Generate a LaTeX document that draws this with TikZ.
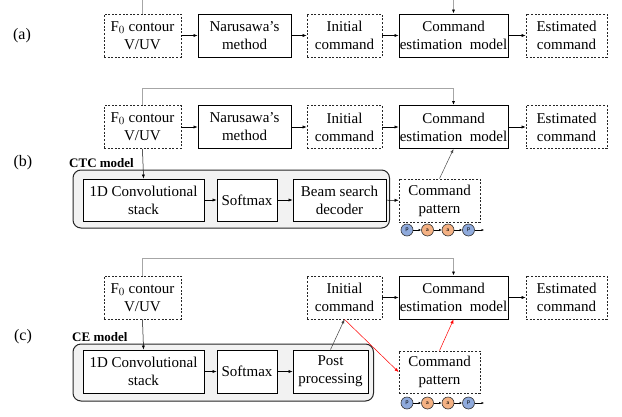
\documentclass[tikz,border=0pt]{standalone}
\usepackage{fontspec}
\setmainfont{Liberation Serif}
\usetikzlibrary{arrows.meta}
\definecolor{pblue}{HTML}{8FAADC}
\definecolor{aorange}{HTML}{F4B183}
\definecolor{grpfill}{HTML}{F2F2F2}
\begin{document}
\begin{tikzpicture}[x=1pt,y=-1pt,
  font=\fontsize{15}{18}\selectfont,
  dbox/.style={draw=black!85, line width=0.8pt, dash pattern=on 2pt off 1.6pt, align=center, inner sep=0pt, minimum height=43pt},
  sbox/.style={draw=black, line width=1pt, align=center, inner sep=0pt, minimum height=43pt},
  ibox/.style={draw=black, line width=0.9pt, fill=white, align=center, inner sep=0pt, minimum height=42pt},
  grp/.style={draw=black!85, line width=1pt, fill=grpfill, rounded corners=8pt},
  conn/.style={line width=0.5pt, -{Latex[length=4pt,width=3.2pt]}},
  gconn/.style={draw=black!35, line width=1.1pt, -{Latex[length=4pt,width=3.2pt,color=black]}},
  rconn/.style={draw=red, line width=0.5pt, -{Latex[length=4pt,width=3.2pt]}},
  tag/.style={font=\fontsize{16}{18}\selectfont},
  gtitle/.style={font=\fontsize{13}{14}\selectfont\bfseries, anchor=west, inner sep=0pt},
  pnode/.style={circle, draw=black!80, line width=0.6pt, fill=pblue, minimum size=12pt, inner sep=0pt, font=\fontsize{6}{6}\sffamily},
  anode/.style={circle, draw=black!80, line width=0.6pt, fill=aorange, minimum size=12pt, inner sep=0pt, font=\fontsize{6}{6}\sffamily},
  sconn/.style={line width=0.4pt, -{Latex[length=2.5pt,width=2.2pt]}}
]
\useasboundingbox (0,0) rectangle (622,416);

% ---------- (a) ----------
\node[tag] (la) at (22,36) {(a)};
\node[dbox, minimum width=77pt] (f0a) at (142.5,35.5) {F$_0$ contour\\V/UV};
\node[sbox, minimum width=93pt] (nara) at (244.5,35.5) {Narusawa’s\\method};
\node[dbox, minimum width=75pt] (inita) at (344.5,35.5) {Initial\\command};
\node[sbox, minimum width=109pt] (cmda) at (453.5,35.5) {Command\\estimation\ \ model};
\node[dbox, minimum width=81pt] (esta) at (566.5,35.5) {Estimated\\command};
\coordinate (ta1) at (142.5,0);
\coordinate (ta2) at (453.5,0);
\draw[draw=black!35, line width=1.1pt] (f0a.north) -- (ta1);
\draw[gconn] (ta2) -- (cmda.north);
\draw[conn] (f0a) -- (nara);
\draw[conn] (nara) -- (inita);
\draw[conn] (inita) -- (cmda);
\draw[conn] (cmda) -- (esta);

% ---------- (b) ----------
\node[tag] (lb) at (23,163) {(b)};
\node[dbox, minimum width=77pt] (f0b) at (142.5,127) {F$_0$ contour\\V/UV};
\node[sbox, minimum width=93pt] (narb) at (244.5,127) {Narusawa’s\\method};
\node[dbox, minimum width=75pt] (initb) at (344.5,127) {Initial\\command};
\node[sbox, minimum width=109pt] (cmdb) at (453.5,127) {Command\\estimation\ \ model};
\node[dbox, minimum width=81pt] (estb) at (566.5,127) {Estimated\\command};
\draw[gconn] (f0b.north) -- ++(0,-17) -| (cmdb.north);
\draw[conn] (f0b) -- (narb);
\draw[conn] (narb) -- (initb);
\draw[conn] (initb) -- (cmdb);
\draw[conn] (cmdb) -- (estb);

\node[gtitle] (ctct) at (69,163) {CTC model};
\draw[grp] (73,170) rectangle (389.5,228);
\node[ibox, minimum width=121pt] (convb) at (143.5,200) {1D Convolutional\\stack};
\node[ibox, minimum width=60pt] (softb) at (247,200) {Softmax};
\node[ibox, minimum width=93pt] (beamb) at (339.5,200) {Beam search\\decoder};
\node[dbox, minimum width=81pt] (patb) at (439.5,200.5) {Command\\pattern};
\draw[conn] (f0b.south) -- (convb.north);
\draw[conn] (convb) -- (softb);
\draw[conn] (softb) -- (beamb);
\draw[conn] (beamb) -- (patb);
\draw[conn, draw=black!70] (patb.north) -- (cmdb.south);

\node[pnode] (pb1) at (407,230) {p};
\node[anode] (pb2) at (427.5,230) {a};
\node[anode] (pb3) at (448,230) {a};
\node[pnode] (pb4) at (468.5,230) {p};
\coordinate (pb5) at (484,230);
\draw[sconn] (pb1) -- (pb2);
\draw[sconn] (pb2) -- (pb3);
\draw[sconn] (pb3) -- (pb4);
\draw[sconn] (pb4) -- (pb5);

% ---------- (c) ----------
\node[tag] (lc) at (23,337) {(c)};
\node[dbox, minimum width=77pt] (f0c) at (142.5,297.5) {F$_0$ contour\\V/UV};
\node[dbox, minimum width=75pt] (initc) at (344.5,297.5) {Initial\\command};
\node[sbox, minimum width=109pt] (cmdc) at (453.5,297.5) {Command\\estimation\ \ model};
\node[dbox, minimum width=81pt] (estc) at (566.5,297.5) {Estimated\\command};
\draw[gconn] (f0c.north) -- ++(0,-17) -| (cmdc.north);
\draw[conn] (initc) -- (cmdc);
\draw[conn] (cmdc) -- (estc);

\node[gtitle] (cet) at (72,337) {CE model};
\draw[grp] (73,344) rectangle (373.5,401);
\node[ibox, minimum width=121pt, minimum height=43pt] (convc) at (143.5,371.5) {1D Convolutional\\stack};
\node[ibox, minimum width=60pt, minimum height=43pt] (softc) at (247,371.5) {Softmax};
\node[ibox, minimum width=75pt, minimum height=43pt] (postc) at (330.5,371.5) {Post\\processing};
\node[dbox, minimum width=81pt, minimum height=42pt] (patc) at (439.5,372) {Command\\pattern};
\draw[conn] (f0c.south) -- (convc.north);
\draw[conn] (convc) -- (softc);
\draw[conn] (softc) -- (postc);
\draw[conn, draw=black!75] (postc.north) -- (initc.south);
\draw[rconn] (initc.south) -- (patc.west);
\draw[rconn] (patc.north) -- (cmdc.south);

\node[pnode] (pc1) at (407,403) {p};
\node[anode] (pc2) at (427.5,403) {a};
\node[anode] (pc3) at (448,403) {a};
\node[pnode] (pc4) at (468.5,403) {p};
\coordinate (pc5) at (484,403);
\draw[sconn] (pc1) -- (pc2);
\draw[sconn] (pc2) -- (pc3);
\draw[sconn] (pc3) -- (pc4);
\draw[sconn] (pc4) -- (pc5);
\end{tikzpicture}
\end{document}
